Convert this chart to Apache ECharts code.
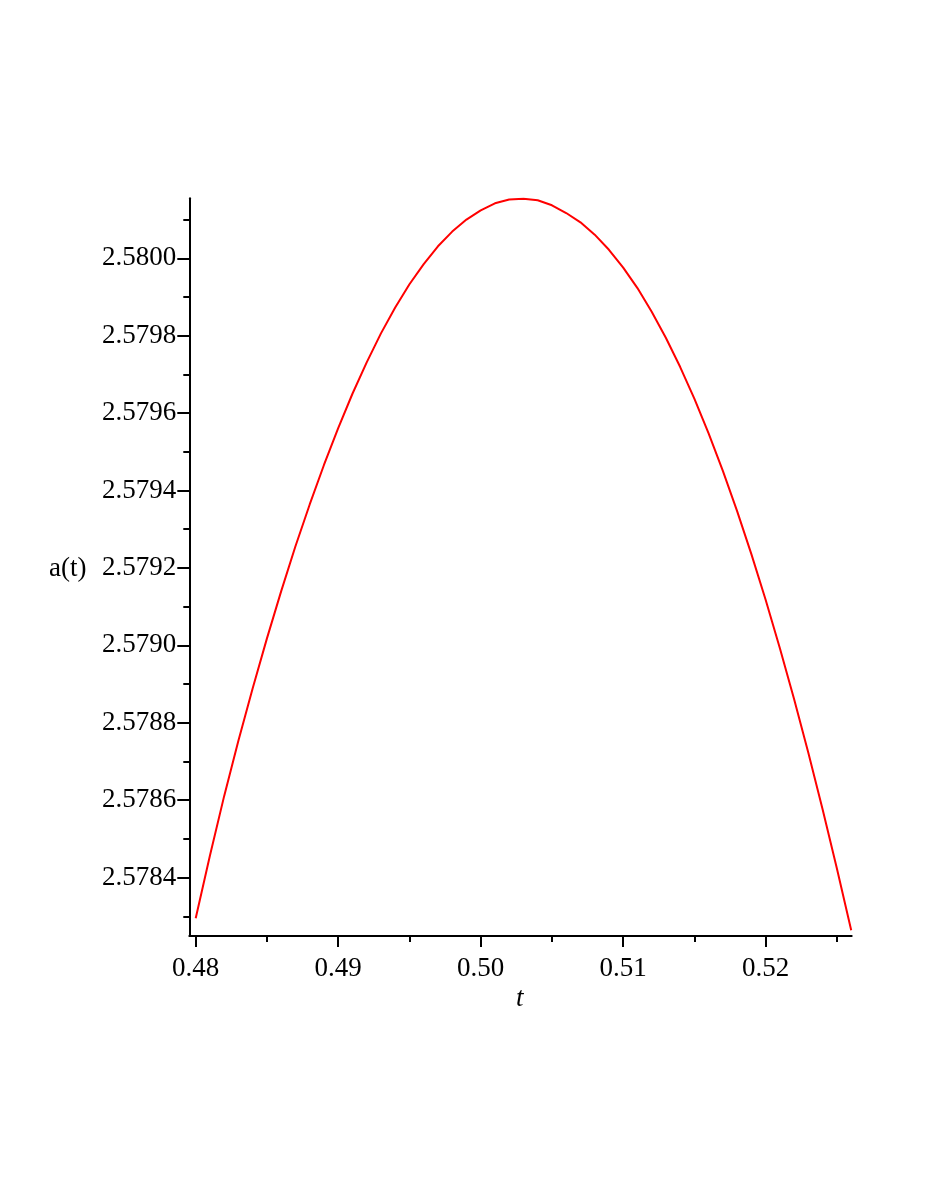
<!DOCTYPE html>
<html>
<head>
<meta charset="utf-8">
<script src="https://cdn.jsdelivr.net/npm/echarts@6/dist/echarts.min.js"></script>
<style>
html,body{margin:0;padding:0;background:#fff;}
#chart{width:926px;height:1199px;}
</style>
</head>
<body>
<div id="chart"></div>
<script>
// Data
var tValues = [0.480, 0.481, 0.482, 0.483, 0.484, 0.485, 0.486, 0.487, 0.488, 0.489,
               0.490, 0.491, 0.492, 0.493, 0.494, 0.495, 0.496, 0.497, 0.498, 0.499,
               0.500, 0.501, 0.502, 0.503, 0.504, 0.505, 0.506, 0.507, 0.508, 0.509,
               0.510, 0.511, 0.512, 0.513, 0.514, 0.515, 0.516, 0.517, 0.518, 0.519,
               0.520, 0.521, 0.522, 0.523, 0.524, 0.525, 0.526];
var aValues = [2.578295, 2.578457, 2.578611, 2.578754, 2.578889, 2.579018, 2.579140, 2.579256, 2.579364, 2.579466,
               2.579561, 2.579650, 2.579731, 2.579806, 2.579873, 2.579933, 2.579985, 2.580031, 2.580069, 2.580100,
               2.580124, 2.580142, 2.580152, 2.580154, 2.580150, 2.580137, 2.580117, 2.580093, 2.580061, 2.580022,
               2.579976, 2.579923, 2.579862, 2.579794, 2.579719, 2.579637, 2.579547, 2.579450, 2.579346, 2.579235,
               2.579117, 2.578992, 2.578860, 2.578721, 2.578575, 2.578423, 2.578264];
var xMajorTicks = [0.48, 0.49, 0.50, 0.51, 0.52];
var xMinorTicks = [0.485, 0.495, 0.505, 0.515, 0.525];
var yMajorTicks = [2.5784, 2.5786, 2.5788, 2.5790, 2.5792, 2.5794, 2.5796, 2.5798, 2.5800];
var yMinorTicks = [2.5783, 2.5785, 2.5787, 2.5789, 2.5791, 2.5793, 2.5795, 2.5797, 2.5799, 2.5801];

var X_MIN = 0.479551, X_MAX = 0.526035;
var Y_MIN = 2.578249, Y_MAX = 2.580155;

var FONT = '"Liberation Serif", "DejaVu Serif", serif';

var seriesData = tValues.map(function (t, i) { return [t, aValues[i]]; });

var chart = echarts.init(document.getElementById('chart'), null, {renderer: 'canvas'});
chart.setOption({
  backgroundColor: '#ffffff',
  animation: false,
  grid: {left: 189.3, top: 198.3, right: 74.3, bottom: 263, containLabel: false},
  xAxis: [
    {
      type: 'value', position: 'bottom', min: X_MIN, max: X_MAX,
      axisLine: {show: true, onZero: false, lineStyle: {color: '#000', width: 2}},
      axisTick: {show: true, customValues: xMajorTicks, length: 11, lineStyle: {color: '#000', width: 2}},
      axisLabel: {show: true, customValues: xMajorTicks, margin: 19, color: '#000',
        fontFamily: FONT, fontSize: 27, formatter: function (v) { return v.toFixed(2); }},
      splitLine: {show: false}
    },
    {
      type: 'value', position: 'bottom', min: X_MIN, max: X_MAX,
      axisLine: {show: false, onZero: false},
      axisTick: {show: true, customValues: xMinorTicks, length: 6, lineStyle: {color: '#000', width: 2}},
      axisLabel: {show: false},
      splitLine: {show: false}
    }
  ],
  yAxis: [
    {
      type: 'value', position: 'left', min: Y_MIN, max: Y_MAX,
      axisLine: {show: true, onZero: false, lineStyle: {color: '#000', width: 2}},
      axisTick: {show: true, customValues: yMajorTicks, length: 12, lineStyle: {color: '#000', width: 2}},
      axisLabel: {show: true, customValues: yMajorTicks, margin: 13, color: '#000',
        fontFamily: FONT, fontSize: 27, formatter: function (v) { return v.toFixed(4); }},
      splitLine: {show: false}
    },
    {
      type: 'value', position: 'left', min: Y_MIN, max: Y_MAX,
      axisLine: {show: false, onZero: false},
      axisTick: {show: true, customValues: yMinorTicks, length: 6, lineStyle: {color: '#000', width: 2}},
      axisLabel: {show: false},
      splitLine: {show: false}
    }
  ],
  graphic: [
    {type: 'text', left: 516, top: 985,
      style: {text: 't', fontFamily: FONT, fontSize: 27, fontStyle: 'italic', fill: '#000'}},
    {type: 'text', left: 49, top: 555,
      style: {text: 'a(t)', fontFamily: FONT, fontSize: 27, fill: '#000'}}
  ],
  series: [{
    type: 'line', xAxisIndex: 0, yAxisIndex: 0,
    data: seriesData, smooth: false, showSymbol: false, symbol: 'none',
    lineStyle: {color: '#ff0000', width: 2}
  }]
});
</script>
</body>
</html>
